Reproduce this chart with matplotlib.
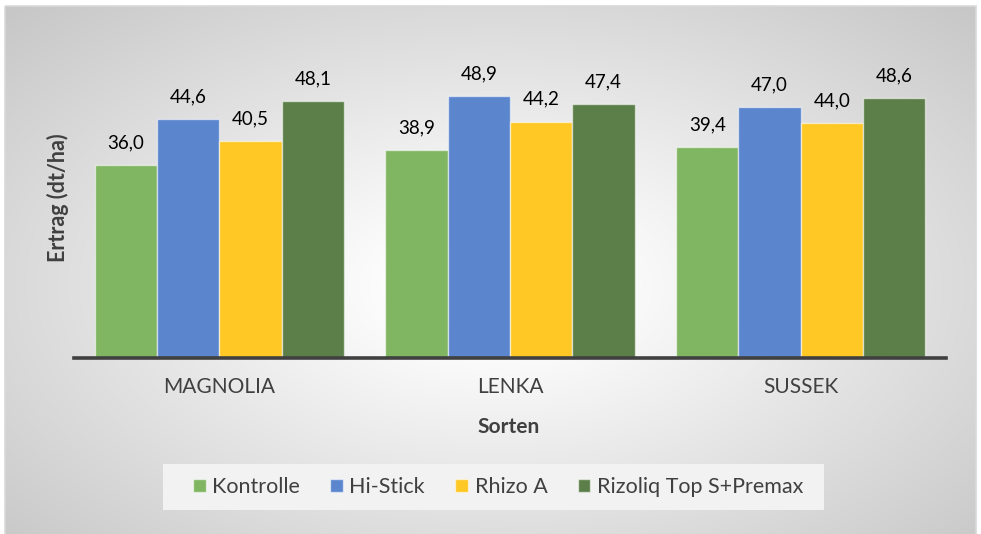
import numpy as np
import matplotlib
matplotlib.use("Agg")
import matplotlib.pyplot as plt
from matplotlib.patches import Rectangle

categories = ["MAGNOLIA", "LENKA", "SUSSEK"]
series_names = ["Kontrolle", "Hi-Stick", "Rhizo A", "Rizoliq Top S+Premax"]
kontrolle = [36.0, 38.9, 39.4]
hi_stick = [44.6, 48.9, 47.0]
rhizo_a = [40.5, 44.2, 44.0]
rizoliq = [48.1, 47.4, 48.6]
series_values = [kontrolle, hi_stick, rhizo_a, rizoliq]
colors = ["#80B661", "#5B86CE", "#FFC825", "#5C7F49"]

W, H = 981, 534
plt.rcParams['font.family'] = ['Lato', 'DejaVu Sans']
fig = plt.figure(figsize=(W / 100, H / 100), dpi=100)

# background: radial gradient chart area with light border
bg_ax = fig.add_axes([0, 0, 1, 1], zorder=-10)
bg_ax.set_xlim(0, W)
bg_ax.set_ylim(H, 0)
bg_ax.axis("off")
x0, x1, y0, y1 = 5, 976, 6, 560
xx, yy = np.meshgrid(np.linspace(x0, x1, 400), np.linspace(y0, y1, 240))
cx, cy = 495, 285
r = np.sqrt(((xx - cx) / ((x1 - x0) / 2)) ** 2 + ((yy - cy) / ((y1 - y0) / 2)) ** 2) / np.sqrt(2)
t = np.clip((r - 0.12) / 0.88, 0, 1)
g = 1.0 - t * (1.0 - 0.78)
img = np.dstack([g, g, g])
bg_ax.imshow(img, extent=[x0, x1, y1, y0], aspect="auto", interpolation="bilinear")
bg_ax.add_patch(Rectangle((x0, y0), x1 - x0, y1 - y0, fill=False, edgecolor="#d9d9d9", lw=1.2))

# legend box
bg_ax.add_patch(Rectangle((162.5, 464), 824 - 162.5, 46, facecolor="#f2f2f2", edgecolor="none"))

ax = fig.add_axes([74 / W, 1 - 358 / H, 872 / W, 321 / H])
ax.patch.set_alpha(0)
x = np.arange(len(categories))
bw = 0.2143
for i, (name, vals, c) in enumerate(zip(series_names, series_values, colors)):
    pos = x + (i - 1.5) * bw
    bars = ax.bar(pos, vals, width=bw, color=c, edgecolor=(1, 1, 1, 0.55), linewidth=1.0, label=name, zorder=2)
    for b, v in zip(bars, vals):
        ax.annotate(f"{v:.1f}".replace(".", ","), (b.get_x() + b.get_width() / 2, v),
                    xytext=(0, 12), textcoords="offset points", ha="center", va="baseline",
                    fontsize=13.5, color="#000000")

ax.set_xlim(-0.5, len(categories) - 0.5)
ax.set_ylim(0, 60)
ax.set_yticks([])
ax.set_xticks(x)
ax.set_xticklabels(categories, fontsize=15, color="#404040")
ax.tick_params(axis="x", length=0, pad=14)
for s in ["top", "right", "left"]:
    ax.spines[s].set_visible(False)
ax.spines["bottom"].set_color("#404040")
ax.spines["bottom"].set_linewidth(2.6)

ax.set_xlabel("Sorten", fontsize=15, fontweight="bold", color="#404040", va="center")
ax.xaxis.set_label_coords((509 - 74) / 872, (358 - 427) / 321)
ax.set_ylabel("Ertrag (dt/ha)", fontsize=15.5, fontweight="bold", color="#404040", va="center")
ax.yaxis.set_label_coords((58 - 74) / 872, 0.5)

leg = fig.legend(loc="center", bbox_to_anchor=(498 / W, 1 - 487 / H), ncol=4, frameon=False,
                 fontsize=15.5, handlelength=0.6, handleheight=0.6, handletextpad=0.3,
                 columnspacing=1.4, labelcolor="#404040")

fig.savefig("out.png", dpi=100)
